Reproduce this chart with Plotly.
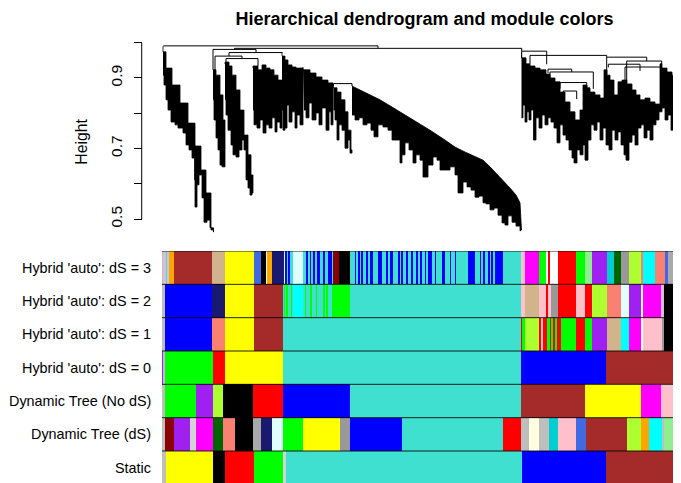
import plotly.graph_objects as go

# ---------------- colour rows (leaf-order positions, bottom row first) ----------------
row_labels = ["Static", "Dynamic Tree (dS)", "Dynamic Tree (No dS)",
              "Hybrid 'auto': dS = 0", "Hybrid 'auto': dS = 1",
              "Hybrid 'auto': dS = 2", "Hybrid 'auto': dS = 3"]

static_bounds = [0, 4, 50.7, 63, 92, 121, 124, 359.7, 444, 519]
static_colors = ["grey", "yellow", "black", "red", "green", "lightgrey", "turquoise", "blue", "brown"]

dynds_bounds = [0, 2.7, 12, 28, 34, 50.7, 60.7, 73, 90.7, 98.7, 110, 121.3, 140.7, 178, 188,
                239.7, 340.7, 358.7, 367, 377, 387.3, 396, 413.7, 423.7, 465, 478.7, 487, 499.7,
                502, 512, 519]
dynds_colors = ["grey", "darkred", "purple", "lightgrey", "magenta", "darkgreen", "salmon", "black",
                "darkgrey", "midnightblue", "lightcyan", "green", "yellow", "grey60", "blue",
                "turquoise", "red", "grey", "lightyellow", "grey", "darkturquoise", "pink",
                "royalblue", "brown", "greenyellow", "orange", "cyan", "grey", "lightgreen", "tan"]

dynnods_bounds = [0, 2.7, 34, 50.7, 60.7, 90.7, 121, 188, 359, 423, 478.7, 498.7, 519]
dynnods_colors = ["grey", "green", "purple", "greenyellow", "black", "red", "blue", "turquoise",
                  "brown", "yellow", "magenta", "pink"]

ds0_bounds = [0, 1.3, 2.7, 50.7, 63, 121, 359, 444, 519]
ds0_colors = ["purple", "grey", "green", "red", "yellow", "turquoise", "blue", "brown"]

ds1_bounds = [0, 2.7, 50.3, 63, 92, 121, 359, 361, 363, 377, 379.7, 381.3, 384.7, 388, 398.7,
              413.7, 423, 429.7, 444.7, 458.7, 467, 479.7, 481.3, 499.7, 502, 519]
ds1_colors = ["grey", "blue", "salmon", "yellow", "brown", "turquoise", "red", "green",
              "greenyellow", "red", "pink", "red", "green", "red", "green", "red", "green",
              "purple", "tan", "cyan", "magenta", "white", "pink", "grey60", "black"]
ds1_stripe_starts = [389.5, 393.5, 360.2]
ds1_stripe_ends = [390.3, 394.3, 360.8]

ds2_bounds = [0, 2.7, 50.3, 63, 92, 121.3, 131.3, 141.3, 169.7, 188, 359, 363, 377.3, 384, 386,
              388.7, 396.3, 413.7, 423, 429.7, 444.7, 458.7, 467, 479.7, 481.3, 498.7, 502, 519]
ds2_colors = ["grey", "blue", "midnightblue", "yellow", "brown", "turquoise", "cyan", "turquoise",
              "green", "turquoise", "pink", "tan", "pink", "red", "pink", "grey60", "red", "pink",
              "red", "greenyellow", "salmon", "lightcyan", "purple", "white", "magenta",
              "thistle", "black"]
ds2_stripe_starts = [122, 124.7, 129, 143.3, 148.7, 154, 161.3, 164.7]
ds2_stripe_ends = [123, 125.7, 130, 144, 149.7, 154.7, 162.7, 165.7]

ds3_bounds = [0, 1.3, 4, 5.3, 7.3, 12, 50.3, 63, 92, 98.7, 104, 105.3, 110, 122, 123, 131.3,
              141.3, 171.3, 177, 188, 340.7, 359, 363, 377, 384, 385.7, 388, 396.3, 413.7, 423,
              429.7, 445.3, 452, 458.7, 467, 479.7, 481.3, 493, 503, 506.3, 513, 519]
ds3_colors = ["grey", "thistle", "turquoise", "thistle", "orange", "brown", "tan", "yellow",
              "royalblue", "black", "lightyellow", "orange", "midnightblue", "lightcyan",
              "turquoise", "lightcyan", "turquoise", "darkred", "black", "turquoise", "turquoise",
              "pink", "magenta", "green", "white", "red", "white", "red", "green", "lightgreen",
              "purple", "darkturquoise", "darkgreen", "grey60", "greenyellow", "salmon", "cyan",
              "salmon", "royalblue", "darkgrey", "pink"]
ds3_stripe_starts = [123, 126.3, 144.7, 148, 151.3, 154.7, 161.3, 166.3, 193, 196.3, 199.7, 204.7,
                     208, 216.3, 224.7, 228, 236.3, 239.7, 244.7, 249.7, 254.7, 258, 263, 266.3,
                     273, 279.7, 288, 293, 306.3, 318, 321.3, 326.3, 329.7, 333]
ds3_stripe_ends = [124.7, 128, 146.3, 149, 152.3, 158, 163, 169.7, 194, 197.3, 201.3, 205.7,
                   211.3, 219.7, 225.7, 231.3, 237.3, 240.7, 245.7, 251.3, 255.7, 259.7, 264,
                   269.7, 274, 283, 289, 294, 313, 319, 322.3, 327.3, 330.7, 340.7]

r_colors = {"grey": "#BEBEBE", "green": "#00FF00", "purple": "#A020F0", "grey60": "#999999",
            "darkgrey": "#A9A9A9", "lightgrey": "#D3D3D3", "thistle": "#D8BFD8"}

# ---------------- dendrogram (leaf position, merge height) ----------------
clusterA_x = [1, 4, 10, 18, 26, 33, 39, 44, 49, 51.5, 51.5, 48, 45, 42, 40, 37, 35, 34, 33, 32.5,
              30, 27, 24, 21, 16, 13, 9, 6, 4, 2, 1]
clusterA_h = [0.990, 0.974, 0.928, 0.880, 0.829, 0.772, 0.707, 0.639, 0.574, 0.469, 0.463, 0.475,
              0.497, 0.491, 0.560, 0.625, 0.597, 0.534, 0.534, 0.611, 0.673, 0.696, 0.710, 0.744,
              0.758, 0.767, 0.775, 0.809, 0.838, 0.880, 0.908]
clusterB1_x = [51, 54, 58, 61, 63, 63, 60, 58, 56, 54, 52, 51]
clusterB1_h = [0.923, 0.923, 0.908, 0.852, 0.781, 0.696, 0.648, 0.653, 0.696, 0.730, 0.781, 0.838]
clusterB2_x = [63, 67, 70, 74, 78, 82, 86, 89, 91, 90, 88, 86, 84, 82, 80, 77, 74, 71, 69, 66, 64, 63]
clusterB2_h = [0.940, 0.945, 0.934, 0.908, 0.866, 0.809, 0.738, 0.682, 0.625, 0.574, 0.568, 0.588,
               0.611, 0.696, 0.724, 0.696, 0.676, 0.682, 0.710, 0.752, 0.795, 0.838]
clusterB3_x = [91, 96, 100, 104, 108, 112, 116, 120, 120, 118, 115, 113, 110, 107, 104, 101, 98, 95, 92, 91]
clusterB3_h = [0.928, 0.934, 0.923, 0.937, 0.928, 0.923, 0.908, 0.894, 0.781, 0.758, 0.775, 0.747,
               0.787, 0.758, 0.767, 0.744, 0.781, 0.758, 0.767, 0.809]
clusterC1_x = [120, 123, 126, 130, 134, 141, 141, 138, 135, 133, 130, 127, 125, 123, 121, 120]
clusterC1_h = [0.971, 0.962, 0.951, 0.937, 0.931, 0.928, 0.809, 0.767, 0.795, 0.758, 0.804, 0.775,
               0.823, 0.758, 0.752, 0.809]
clusterC2_x = [141, 148, 154, 160, 166, 171, 171, 169, 167, 164, 160, 157, 154, 150, 147, 144, 142]
clusterC2_h = [0.931, 0.923, 0.914, 0.903, 0.894, 0.886, 0.809, 0.767, 0.804, 0.752, 0.815, 0.767,
               0.801, 0.781, 0.829, 0.787, 0.809]
clusterC3_x = [171.5, 175, 179, 183, 186, 189, 190, 188, 186, 183, 180, 177, 175, 173, 171.5]
clusterC3_h = [0.877, 0.872, 0.860, 0.838, 0.804, 0.752, 0.696, 0.687, 0.724, 0.701, 0.752, 0.767,
               0.724, 0.781, 0.809]
clusterC4_top_x = [190, 198, 208, 218, 228, 238, 253, 268, 283, 293, 303, 313, 321, 328, 338, 348,
                   354, 358, 359.5]
clusterC4_top_h = [0.877, 0.866, 0.852, 0.838, 0.821, 0.804, 0.778, 0.752, 0.724, 0.704, 0.690,
                   0.676, 0.667, 0.648, 0.619, 0.588, 0.568, 0.546, 0.469]
clusterC4_bot_x = [190, 193, 197, 201, 205, 209, 212, 216, 221, 226, 230, 235, 238, 240, 243, 247,
                   251, 254, 258, 261, 266, 271, 275, 278, 284, 288, 293, 296, 301, 305, 309, 313,
                   317, 321, 324, 328, 332, 336, 340, 343, 346, 350, 354, 358]
clusterC4_bot_h = [0.795, 0.781, 0.787, 0.767, 0.772, 0.752, 0.733, 0.767, 0.761, 0.752, 0.724,
                   0.724, 0.659, 0.682, 0.716, 0.696, 0.659, 0.682, 0.667, 0.619, 0.653, 0.676,
                   0.667, 0.639, 0.639, 0.648, 0.625, 0.574, 0.605, 0.591, 0.582, 0.562, 0.565,
                   0.546, 0.543, 0.526, 0.531, 0.511, 0.489, 0.483, 0.509, 0.491, 0.480, 0.466]
clusterD_top_x = [359.5, 364, 368, 373, 378, 384, 388, 393, 398, 403, 408, 413, 418, 421, 425, 428,
                  433, 438, 442, 445, 448, 452, 456, 460, 465, 470, 474, 478, 483, 488, 493, 498,
                  500, 505, 510, 514, 518]
clusterD_top_h = [0.974, 0.957, 0.940, 0.934, 0.928, 0.923, 0.911, 0.900, 0.889, 0.860, 0.832,
                  0.804, 0.781, 0.809, 0.880, 0.872, 0.860, 0.852, 0.843, 0.923, 0.908, 0.894,
                  0.852, 0.889, 0.894, 0.883, 0.866, 0.852, 0.838, 0.843, 0.832, 0.826, 0.940,
                  0.928, 0.917, 0.908, 0.894]
clusterD_bot_x = [359.5, 361, 363, 365, 367, 369, 371.5, 374, 377, 380, 383, 386, 389, 392, 395,
                  398, 401, 404, 407, 410, 412, 415, 418, 421, 423, 426, 429, 432, 435, 438, 441,
                  444, 447, 450, 453, 456, 459, 462, 464, 467, 470, 473, 476, 479, 482, 485, 488,
                  491, 494, 497, 500, 503, 506, 509, 512, 515, 518]
clusterD_bot_h = [0.787, 0.823, 0.775, 0.804, 0.781, 0.809, 0.724, 0.787, 0.758, 0.795, 0.767,
                  0.787, 0.775, 0.758, 0.716, 0.767, 0.738, 0.724, 0.696, 0.673, 0.659, 0.696,
                  0.682, 0.710, 0.667, 0.724, 0.767, 0.752, 0.775, 0.724, 0.758, 0.710, 0.696,
                  0.752, 0.724, 0.747, 0.710, 0.682, 0.667, 0.718, 0.738, 0.710, 0.758, 0.767,
                  0.730, 0.752, 0.724, 0.767, 0.781, 0.804, 0.815, 0.781, 0.795, 0.752, 0.787,
                  0.724, 0.767]

merge_xl = [1.5, 72.5, 51, 67, 53, 64, 171.5, 359.7, 368, 444.7, 464.7, 386, 388, 398, 401.3, 446.3, 463]
merge_xr = [216, 359.7, 94, 120.5, 80, 96, 190, 384.7, 444.7, 484.7, 499.7, 409.7, 431.3, 424.7, 414.7, 478, 499.7]
merge_h = [0.991, 0.984, 0.981, 0.972, 0.962, 0.955, 0.884, 0.976, 0.964, 0.959, 0.948, 0.925,
           0.917, 0.887, 0.863, 0.939, 0.931]
merge_hl = [0.990, 0.981, 0.923, 0.962, 0.917, 0.940, 0.877, 0.957, 0.940, 0.869, 0.894, 0.914,
            0.900, 0.870, 0.845, 0.930, 0.880]
merge_hr = [0.984, 0.976, 0.972, 0.971, 0.955, 0.934, 0.877, 0.939, 0.959, 0.948, 0.939, 0.917,
            0.869, 0.860, 0.840, 0.920, 0.826]

y_ticks = [0.5, 0.6, 0.7, 0.8, 0.9, 1.0]
y_tick_text = ["0.5", "", "0.7", "", "0.9", ""]

# ---------------- figure geometry ----------------
# the page body keeps the browser's default 8px margin, so the figure is placed 8px in
OFF = 8
FIG_W, FIG_H = 681 - OFF, 483 - OFF
FONT = "Liberation Sans, Arial, Helvetica, sans-serif"
N_LEAVES = 519


def fx(px):          # window pixel -> paper x
    return (px - OFF) / FIG_W


def fy(py):          # window pixel -> paper y
    return 1 - (py - OFF) / FIG_H


fig = go.Figure()


def col(c):
    return r_colors.get(c, c)


def add_row(row, bounds, colors):
    starts = bounds[:-1]
    widths = [e - s for s, e in zip(bounds[:-1], bounds[1:])]
    fig.add_trace(go.Bar(orientation="h", y=[row + 0.5] * len(starts), x=widths, base=starts,
                         width=1, marker=dict(color=[col(c) for c in colors], line=dict(width=0)),
                         xaxis="x", yaxis="y2", hoverinfo="skip", showlegend=False))


def add_stripes(row, starts, ends, color):
    fig.add_trace(go.Bar(orientation="h", y=[row + 0.5] * len(starts),
                         x=[e - s for s, e in zip(starts, ends)], base=starts, width=1,
                         marker=dict(color=col(color), line=dict(width=0)),
                         xaxis="x", yaxis="y2", hoverinfo="skip", showlegend=False))


add_row(0, static_bounds, static_colors)
add_row(1, dynds_bounds, dynds_colors)
add_row(2, dynnods_bounds, dynnods_colors)
add_row(3, ds0_bounds, ds0_colors)
add_row(4, ds1_bounds, ds1_colors)
add_stripes(4, ds1_stripe_starts, ds1_stripe_ends, "green")
add_row(5, ds2_bounds, ds2_colors)
add_stripes(5, ds2_stripe_starts, ds2_stripe_ends, "green")
add_row(6, ds3_bounds, ds3_colors)
add_stripes(6, ds3_stripe_starts, ds3_stripe_ends, "blue")

# row separators
sx, sy = [], []
for k in range(len(row_labels) + 1):
    sx += [0, N_LEAVES, None]
    sy += [k, k, None]
fig.add_trace(go.Scatter(x=sx, y=sy, mode="lines", line=dict(color="rgba(0,0,0,0.85)", width=1),
                         xaxis="x", yaxis="y2", hoverinfo="skip", showlegend=False))

# dendrogram masses drawn with leaf-like vertical drops
polys = [(clusterA_x, clusterA_h), (clusterB1_x, clusterB1_h), (clusterB2_x, clusterB2_h),
         (clusterB3_x, clusterB3_h), (clusterC1_x, clusterC1_h), (clusterC2_x, clusterC2_h),
         (clusterC3_x, clusterC3_h),
         (clusterD_top_x + clusterD_bot_x[::-1], clusterD_top_h + clusterD_bot_h[::-1])]
for px_, ph_ in polys:
    fig.add_trace(go.Scatter(x=px_, y=ph_, mode="lines", fill="toself", fillcolor="black",
                             line=dict(color="black", width=0.8, shape="vh"), xaxis="x", yaxis="y",
                             hoverinfo="skip", showlegend=False))

# the long turquoise branch: smooth upper edge, stepped leaf ends below
step_x, step_h = [], []
for i in range(len(clusterC4_bot_x)):
    step_x.append(clusterC4_bot_x[i])
    step_h.append(clusterC4_bot_h[i])
    if i + 1 < len(clusterC4_bot_x):
        step_x.append(clusterC4_bot_x[i + 1])
        step_h.append(clusterC4_bot_h[i])
fig.add_trace(go.Scatter(x=clusterC4_top_x + step_x[::-1], y=clusterC4_top_h + step_h[::-1],
                         mode="lines", fill="toself", fillcolor="black",
                         line=dict(color="black", width=0.8), xaxis="x", yaxis="y",
                         hoverinfo="skip", showlegend=False))

# dendrogram merge links
mx, my = [], []
for xl, xr, h, hl, hr in zip(merge_xl, merge_xr, merge_h, merge_hl, merge_hr):
    mx += [xl, xl, xr, xr, None]
    my += [hl, h, h, hr, None]
fig.add_trace(go.Scatter(x=mx, y=my, mode="lines", line=dict(color="black", width=1),
                         xaxis="x", yaxis="y", hoverinfo="skip", showlegend=False))

# R-style axis line spanning first to last tick
axis_pos = fx(141.7)
fig.add_shape(type="line", xref="paper", yref="y", x0=axis_pos, x1=axis_pos,
              y0=y_ticks[0], y1=y_ticks[-1], line=dict(color="black", width=1))

for i, lab in enumerate(row_labels):
    fig.add_annotation(text=lab, x=fx(153), xref="paper", xanchor="right", y=i + 0.5, yref="y2",
                       yanchor="middle", showarrow=False, font=dict(family=FONT, size=14.4, color="black"))

fig.add_annotation(text="Height", textangle=-90, x=fx(82), xref="paper", xanchor="center",
                   y=fy(141.7), yref="paper", yanchor="middle", showarrow=False,
                   font=dict(family=FONT, size=15.8, color="black"))

fig.update_layout(
    width=FIG_W, height=FIG_H, margin=dict(l=0, r=0, t=0, b=0, pad=0, autoexpand=False),
    paper_bgcolor="white", plot_bgcolor="white",
    barmode="overlay", bargap=0, showlegend=False,
    title=dict(text="<b>Hierarchical dendrogram and module colors</b>", x=fx(424.5), xanchor="center",
               y=fy(18.5), yanchor="middle", xref="paper", yref="container",
               font=dict(family=FONT, size=18, color="black")),
    xaxis=dict(domain=[fx(162), 1], range=[0, N_LEAVES], visible=False, anchor="y2", fixedrange=True),
    yaxis=dict(domain=[fy(245), fy(30)], range=[0.4264, 1.036], anchor="free",
               position=axis_pos, showgrid=False, zeroline=False, showline=False,
               ticks="outside", ticklen=8, tickwidth=1, tickcolor="black",
               tickvals=y_ticks, ticktext=y_tick_text, tickangle=-90, automargin=False,
               ticklabelstandoff=6,
               tickfont=dict(family=FONT, size=15.5, color="black")),
    yaxis2=dict(domain=[0, fy(251)], range=[0.04, 7], visible=False, anchor="x"),
)

fig.write_html("out.html")
